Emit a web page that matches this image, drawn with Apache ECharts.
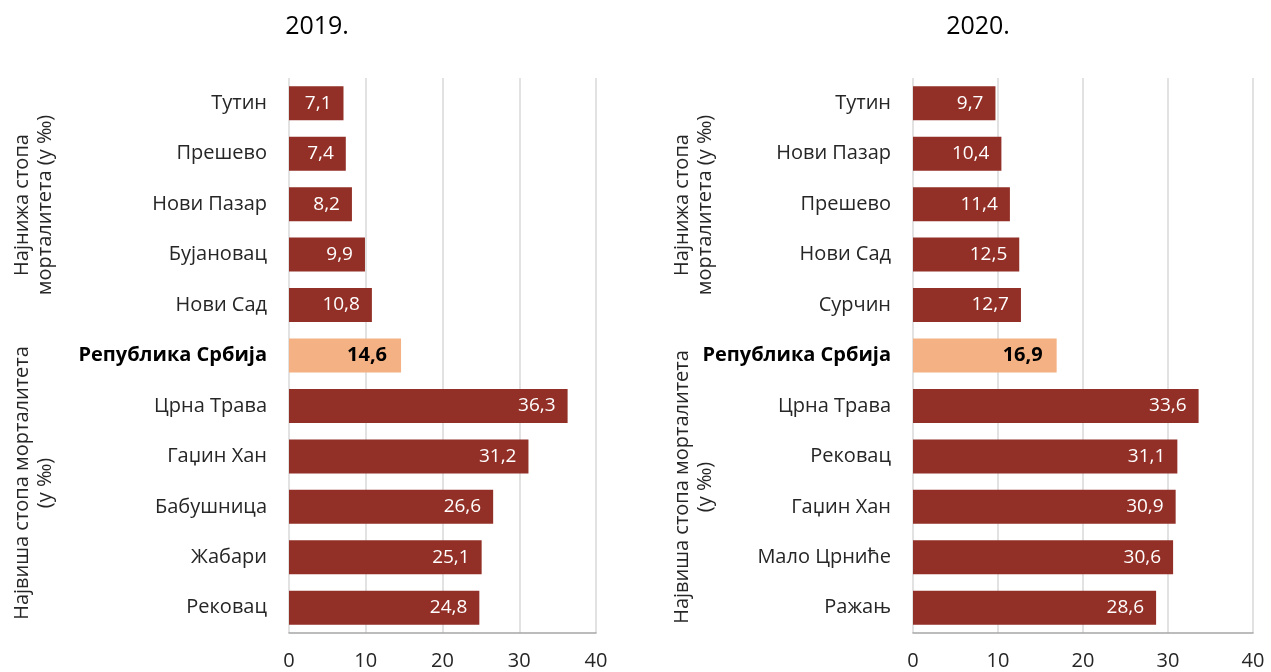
<!DOCTYPE html>
<html><head><meta charset="utf-8">
<script src="https://cdn.jsdelivr.net/npm/echarts@6/dist/echarts.min.js"></script>
<style>html,body{margin:0;padding:0;background:#fff}#c{width:1271px;height:672px}</style>
</head><body><div id="c"></div>
<script>
const cats2019 = ['Тутин','Прешево','Нови Пазар','Бујановац','Нови Сад','Република Србија','Црна Трава','Гаџин Хан','Бабушница','Жабари','Рековац'];
const vals2019 = [7.1, 7.4, 8.2, 9.9, 10.8, 14.6, 36.3, 31.2, 26.6, 25.1, 24.8];
const cats2020 = ['Тутин','Нови Пазар','Прешево','Нови Сад','Сурчин','Република Србија','Црна Трава','Рековац','Гаџин Хан','Мало Црниће','Ражањ'];
const vals2020 = [9.7, 10.4, 11.4, 12.5, 12.7, 16.9, 33.6, 31.1, 30.9, 30.6, 28.6];
const xTicks = [0, 10, 20, 30, 40];
const titles = ['2019.', '2020.'];
const lowLabel = 'Најнижа стопа\nморталитета (у ‰)';
const highLabel = 'Највиша стопа морталитета\n(у ‰)';
const NATIONAL = 'Република Србија';

const FONT = '"Open Sans", "Noto Sans", sans-serif';
const DARK = '#922f26', LIGHT = '#f4b183';

function mkData(cats, vals){
  return vals.map((v,i)=>{
    const nat = cats[i] === NATIONAL;
    return {
      value: v,
      itemStyle: {color: nat ? LIGHT : DARK},
      label: nat ? {color:'#000', fontWeight:'bold', fontSize:20, distance:14} : {}
    };
  });
}
const grids = [
  {left:289, width:307, top:78, height:555},
  {left:913, width:340, top:78, height:555}
];
const chart = echarts.init(document.getElementById('c'), null, {renderer:'canvas'});
const xAxes = [0,1].map(i=>({
  type:'value', gridIndex:i, min:xTicks[0], max:xTicks[xTicks.length-1], interval:10,
  axisLine:{show:true, lineStyle:{color:'#a6a6a6', width:1.5}},
  axisTick:{show:false},
  splitLine:{show:true, lineStyle:{color:'#d9d9d9', width:1.5}},
  axisLabel:{fontSize:20, color:'#262626', margin:18, fontFamily:FONT}
}));
const yAxes = [cats2019, cats2020].map((cats,i)=>({
  type:'category', gridIndex:i, data:cats, inverse:true,
  axisLine:{show:false}, axisTick:{show:false},
  axisLabel:{
    margin:22, fontSize:20, color:'#262626', fontFamily:FONT,
    formatter: v => v === NATIONAL ? '{b|'+v+'}' : v,
    rich:{b:{fontWeight:'bold', fontSize:20, color:'#000', fontFamily:FONT}}
  }
}));
const series = [[cats2019, vals2019],[cats2020, vals2020]].map((d,i)=>({
  type:'bar', xAxisIndex:i, yAxisIndex:i, barWidth:34,
  data: mkData(d[0], d[1]),
  label:{show:true, position:'insideRight', distance:12, color:'#fff', fontSize:19, fontFamily:FONT,
    formatter: p => String(p.value).replace('.', ',')},
  silent:true
}));
function vtext(x, y, txt){
  return {type:'text', x:x, y:y, rotation:Math.PI/2,
    style:{text:txt, font:'20px '+FONT, fill:'#262626', align:'center', verticalAlign:'middle', lineHeight:23}};
}
chart.setOption({
  animation:false,
  title:[
    {text:titles[0], left:312, top:9, textAlign:'center', textStyle:{fontSize:25, fontWeight:'normal', color:'#000', fontFamily:FONT}},
    {text:titles[1], left:973, top:9, textAlign:'center', textStyle:{fontSize:25, fontWeight:'normal', color:'#000', fontFamily:FONT}}
  ],
  grid:grids, xAxis:xAxes, yAxis:yAxes, series:series,
  graphic:[
    vtext(34, 205, lowLabel),
    vtext(34, 483, highLabel),
    vtext(694, 205, lowLabel),
    vtext(694, 487, highLabel)
  ]
});
</script></body></html>
